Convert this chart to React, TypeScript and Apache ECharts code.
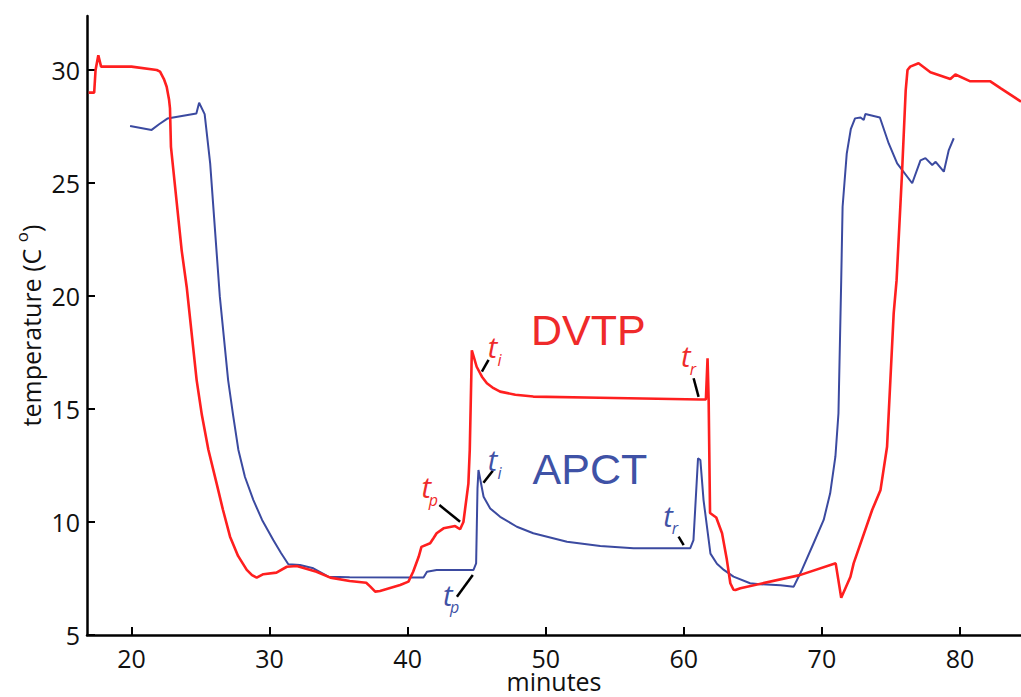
import React, { useEffect, useRef } from "react";
import * as echarts from "echarts";

const RED = "#ff1f1f";
const BLUE = "#3b4aa0";
const RED_TEXT = "#ef2a2a";
const BLUE_TEXT = "#3f52a6";

const xTicks = [20, 30, 40, 50, 60, 70, 80];
const yTicks = [5, 10, 15, 20, 25, 30];

const dvtp: [number, number][] = [
  [16.9, 29.0], [17.3, 29.0], [17.4, 30.0], [17.6, 30.65], [17.8, 30.15], [20.0, 30.15],
  [21.83, 30.0], [22.07, 29.93], [22.35, 29.6], [22.55, 29.26], [22.72, 28.7], [22.79, 28.3],
  [22.86, 26.6], [23.64, 22.0], [24.0, 20.4], [24.72, 16.28], [25.1, 14.73], [25.57, 13.2],
  [26.17, 11.7], [26.63, 10.53], [27.14, 9.35], [27.72, 8.5], [28.35, 7.88], [28.73, 7.65],
  [29.07, 7.54], [29.55, 7.69], [30.5, 7.76], [31.25, 8.02], [31.97, 8.05],
  [33.4, 7.8], [34.4, 7.54], [35.8, 7.39], [37.0, 7.31], [37.3, 7.14], [37.65, 6.92],
  [38.0, 6.95], [39.46, 7.21], [40.06, 7.36], [40.4, 7.8], [40.8, 8.46], [41.0, 8.9],
  [41.63, 9.06], [41.87, 9.28], [42.1, 9.5], [42.6, 9.72], [43.44, 9.82], [43.8, 9.68],
  [44.04, 10.0], [44.4, 11.7], [44.5, 13.2], [44.65, 17.6], [45.0, 16.87], [45.38, 16.43],
  [45.74, 16.14], [46.22, 15.92], [46.7, 15.77], [47.8, 15.63], [49.1, 15.55], [53.9, 15.5],
  [61.2, 15.42], [61.6, 15.42], [61.72, 17.24],
  [61.8, 15.4], [61.9, 10.4], [62.35, 10.2], [62.77, 9.5], [63.1, 8.4], [63.37, 7.29], [63.6, 7.0],
  [63.74, 6.99], [64.1, 7.07], [68.4, 7.65], [71.0, 8.17], [71.4, 6.65], [72.07, 7.58],
  [72.3, 8.17], [73.64, 10.53], [74.24, 11.4], [74.72, 13.33], [74.96, 16.28], [75.2, 19.23],
  [75.41, 20.7], [75.8, 25.4], [76.07, 29.1], [76.2, 30.0], [76.4, 30.15], [77.0, 30.3],
  [77.86, 29.9], [79.3, 29.6], [79.67, 29.8], [80.75, 29.5], [82.2, 29.5], [82.93, 29.2],
  [84.42, 28.6],
];

const apct: [number, number][] = [
  [19.9, 27.52], [21.46, 27.35], [22.0, 27.6], [22.6, 27.85], [24.7, 28.08], [24.9, 28.55],
  [25.3, 28.05], [25.7, 25.87], [26.4, 19.97], [27.0, 16.28], [27.36, 14.73], [27.74, 13.2],
  [28.22, 11.99], [28.83, 10.97], [29.46, 10.09], [30.27, 9.2], [30.83, 8.63], [31.36, 8.13],
  [32.2, 8.1], [33.17, 7.95], [34.26, 7.58], [35.8, 7.55],
  [41.15, 7.54], [41.4, 7.8], [42.1, 7.88], [44.77, 7.88], [44.96, 8.17], [45.06, 11.5],
  [45.13, 12.3], [45.5, 11.12], [45.98, 10.6], [46.7, 10.23], [47.91, 9.79], [49.1, 9.5],
  [51.54, 9.13], [53.95, 8.94], [56.36, 8.84],
  [60.47, 8.84], [60.7, 9.2], [61.03, 12.82], [61.2, 12.74], [61.43, 10.97], [61.93, 8.6],
  [62.4, 8.15], [62.9, 7.88], [63.6, 7.58], [64.8, 7.29], [65.5, 7.25], [67.0, 7.2], [67.96, 7.14],
  [68.57, 7.9], [69.4, 9.06], [70.13, 10.09], [70.6, 11.27], [70.98, 12.9], [71.2, 14.8],
  [71.4, 20.7], [71.5, 23.95], [71.8, 26.3], [72.1, 27.4], [72.4, 27.86], [72.8, 27.9], [73.03, 27.79],
  [73.15, 28.05], [74.2, 27.9], [74.84, 26.75], [75.45, 25.87], [76.54, 24.99], [77.14, 26.0],
  [77.5, 26.1], [77.99, 25.8], [78.24, 25.94], [78.83, 25.5], [79.19, 26.46], [79.55, 26.98],
];

const seriesLabels = [
  { text: "DVTP", color: RED_TEXT, at: [53.08, 18.5] },
  { text: "APCT", color: BLUE_TEXT, at: [53.2, 12.35] },
];

const tLabels = [
  { sub: "p", color: RED_TEXT, at: [41.35, 11.55] },
  { sub: "i", color: RED_TEXT, at: [46.15, 17.75] },
  { sub: "r", color: RED_TEXT, at: [60.15, 17.35] },
  { sub: "i", color: BLUE_TEXT, at: [46.15, 12.75] },
  { sub: "p", color: BLUE_TEXT, at: [42.9, 6.8] },
  { sub: "r", color: BLUE_TEXT, at: [58.85, 10.3] },
];

const leaders: [number, number][][] = [
  [[42.3, 10.75], [43.8, 10.01]],
  [[45.86, 17.17], [45.38, 16.65]],
  [[60.71, 16.36], [61.07, 15.54]],
  [[46.17, 12.27], [45.49, 11.74]],
  [[43.57, 6.69], [44.72, 7.65]],
  [[59.62, 9.35], [59.99, 8.98]],
];

export default function App() {
  const ref = useRef<HTMLDivElement>(null);
  useEffect(() => {
    if (!ref.current) return;
    const chart = echarts.init(ref.current, null, { renderer: "svg" });
    const axisCommon = {
      axisLine: { show: true, onZero: false, lineStyle: { color: "#000", width: 2.5 } },
      axisTick: { show: true, inside: true, length: 8, lineStyle: { color: "#000", width: 2 } },
      splitLine: { show: false },
      nameMoveOverlap: false,
    };
    chart.setOption({
      animation: false,
      backgroundColor: "#fff",
      grid: { left: 87, right: 0, top: 16, bottom: 62, containLabel: false, outerBoundsMode: "none" },
      xAxis: {
        type: "value",
        min: 16.78,
        max: 84.42,
        ...axisCommon,
        axisTick: { ...axisCommon.axisTick, customValues: xTicks },
        axisLabel: {
          customValues: xTicks,
          fontFamily: "Open Sans",
          fontSize: 25,
          lineHeight: 22,
          color: "#111",
          margin: 12,
        },
        name: "minutes",
        nameLocation: "middle",
        nameGap: 35,
        nameTextStyle: { fontFamily: "Open Sans", fontSize: 25, lineHeight: 22, color: "#111" },
      },
      yAxis: {
        type: "value",
        min: 5,
        max: 32.39,
        ...axisCommon,
        axisTick: { ...axisCommon.axisTick, customValues: yTicks },
        axisLabel: {
          customValues: yTicks,
          fontFamily: "Open Sans",
          fontSize: 25,
          color: "#111",
          margin: 7,
        },
        name: "{a|temperature (C }{b|o}{a|)}",
        nameLocation: "middle",
        nameRotate: 90,
        nameGap: 44,
        nameTextStyle: {
          fontFamily: "Open Sans",
          color: "#111",
          rich: {
            a: { fontFamily: "Open Sans", fontSize: 25, color: "#111", lineHeight: 30, verticalAlign: "bottom" },
            b: { fontFamily: "Open Sans", fontSize: 17, color: "#111", lineHeight: 30, verticalAlign: "top" },
          },
        },
      },
      series: [
        {
          name: "DVTP",
          type: "line",
          data: dvtp,
          showSymbol: false,
          lineStyle: { color: RED, width: 2.6 },
          itemStyle: { color: RED },
          z: 3,
        },
        {
          name: "APCT",
          type: "line",
          data: apct,
          showSymbol: false,
          lineStyle: { color: BLUE, width: 2 },
          itemStyle: { color: BLUE },
          z: 2,
        },
      ],
    });

    const px = (p: number[]) => chart.convertToPixel({ xAxisIndex: 0, yAxisIndex: 0 }, p) as number[];
    const graphics: any[] = [];
    seriesLabels.forEach((s) => {
      const [x, y] = px(s.at);
      graphics.push({
        type: "text",
        x,
        y,
        style: {
          text: s.text,
          fill: s.color,
          font: "43px 'Liberation Sans', Arial, sans-serif",
          align: "center",
          verticalAlign: "middle",
        },
      });
    });
    leaders.forEach((l) => {
      const [x1, y1] = px(l[0]);
      const [x2, y2] = px(l[1]);
      graphics.push({
        type: "line",
        shape: { x1, y1, x2, y2 },
        style: { stroke: "#000", lineWidth: 2.5 },
      });
    });
    tLabels.forEach((t) => {
      const [x, y] = px(t.at);
      graphics.push({
        type: "text",
        x,
        y,
        style: {
          text: "t",
          fill: t.color,
          font: "italic 29px 'Open Sans', sans-serif",
          lineHeight: 14,
          align: "center",
          verticalAlign: "middle",
        },
      });
      graphics.push({
        type: "text",
        x: x + 7,
        y: y + 13,
        style: {
          text: t.sub,
          fill: t.color,
          font: "italic 16px 'Open Sans', sans-serif",
          lineHeight: 9,
          align: "center",
          verticalAlign: "middle",
        },
      });
    });
    chart.setOption({ graphic: graphics });

    return () => chart.dispose();
  }, []);
  return (
    <div
      ref={ref}
      style={{ position: "fixed", left: 0, top: 0, width: 1021, height: 697, background: "#fff" }}
    />
  );
}
